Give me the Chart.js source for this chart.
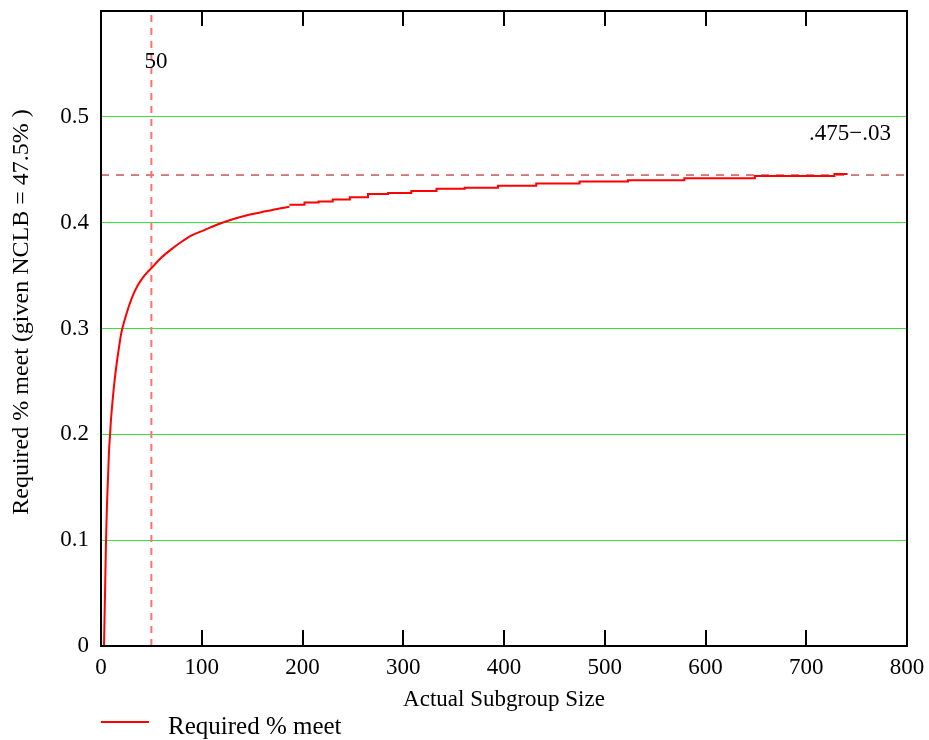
<!DOCTYPE html>
<html>
<head>
<meta charset="utf-8">
<script src="https://cdn.jsdelivr.net/npm/chart.js@4.4.1/dist/chart.umd.min.js"></script>
<style>
    html, body { margin: 0; padding: 0; background: #fff; }
    #wrap { width: 929px; height: 740px; }
</style>
</head>
<body>
<div id="wrap"><canvas id="chart"></canvas></div>
<script>
// Subgroup size (n) and required % meet
const smoothN = [3, 4, 5, 6, 7, 8, 9, 10, 12, 14, 16, 18, 20, 22, 25, 28, 32, 36, 40, 45, 50, 60, 70, 80, 90, 100, 115, 130, 145, 160, 175, 187];
const smoothVal = [0, 0.05, 0.10, 0.135, 0.16, 0.185, 0.20, 0.215, 0.237, 0.255, 0.27, 0.283, 0.295, 0.303, 0.313, 0.322, 0.332, 0.34, 0.346, 0.352, 0.357, 0.367, 0.375, 0.382, 0.388, 0.392, 0.398, 0.403, 0.407, 0.410, 0.413, 0.415];

// stepped part: n where each plateau starts, and its value
const stepN = [187, 202, 216, 230, 247, 265, 285, 308, 333, 361, 394, 432, 475, 523, 579, 649, 728, 741];
const stepVal = [0.417, 0.419, 0.420, 0.422, 0.424, 0.427, 0.428, 0.430, 0.432, 0.433, 0.435, 0.437, 0.439, 0.440, 0.442, 0.444, 0.446, 0.446];

const xTicks = [0, 100, 200, 300, 400, 500, 600, 700, 800];
const yTicks = [0, 0.1, 0.2, 0.3, 0.4, 0.5];

const markerN = 50;
const targetVal = 0.475 - 0.03;
const targetLabel = '.475\u2212.03';
const yTitle = 'Required % meet (given NCLB = 47.5% )';

const FONT = '"Liberation Serif", "DejaVu Serif", serif';

const toPoints = (xs, ys) => xs.map((x, i) => ({ x: x, y: ys[i] }));

// frame, inward ticks, text labels and legend
const decorations = {
    id: 'decorations',
    afterDraw(chart) {
        const ctx = chart.ctx;
        const a = chart.chartArea;
        const xs = chart.scales.x;
        const ys = chart.scales.y;
        ctx.save();

        ctx.strokeStyle = '#000';
        ctx.lineWidth = 2;
        ctx.strokeRect(a.left, a.top, a.right - a.left, a.bottom - a.top);

        ctx.beginPath();
        xTicks.forEach(v => {
            const px = Math.round(xs.getPixelForValue(v));
            ctx.moveTo(px, a.bottom);
            ctx.lineTo(px, a.bottom - 16);
            ctx.moveTo(px, a.top);
            ctx.lineTo(px, a.top + 15);
        });
        ctx.stroke();

        ctx.fillStyle = '#000';
        ctx.font = '23px ' + FONT;
        ctx.textBaseline = 'middle';
        ctx.textAlign = 'left';
        ctx.fillText(String(markerN), xs.getPixelForValue(markerN) - 7, ys.getPixelForValue(0.552));
        ctx.textAlign = 'right';
        ctx.fillText(targetLabel, xs.getPixelForValue(784), ys.getPixelForValue(0.484));

        // y axis title, slightly above the plot centre as in the original
        ctx.save();
        ctx.translate(22, 312);
        ctx.rotate(-Math.PI / 2);
        ctx.textAlign = 'center';
        ctx.font = '24px ' + FONT;
        ctx.fillText(yTitle, 0, 0);
        ctx.restore();

        // legend
        ctx.strokeStyle = '#ff0000';
        ctx.lineWidth = 2;
        ctx.beginPath();
        ctx.moveTo(a.left, 722);
        ctx.lineTo(a.left + 48, 722);
        ctx.stroke();
        ctx.textAlign = 'left';
        ctx.font = '25px ' + FONT;
        ctx.fillText('Required % meet', a.left + 67, 727);
        ctx.restore();
    }
};

new Chart(document.getElementById('chart'), {
    type: 'line',
    data: {
        datasets: [
            {
                label: 'Required % meet',
                data: toPoints(smoothN, smoothVal),
                borderColor: '#ff0000',
                borderWidth: 2,
                pointRadius: 0,
                tension: 0.3
            },
            {
                label: 'Required % meet (steps)',
                data: toPoints(stepN, stepVal),
                borderColor: '#ff0000',
                borderWidth: 2,
                pointRadius: 0,
                stepped: true
            },
            {
                label: 'n = 50',
                data: [{ x: markerN, y: 0 }, { x: markerN, y: 0.6 }],
                borderColor: '#ff7070',
                borderWidth: 2,
                borderDash: [7, 6],
                pointRadius: 0
            },
            {
                label: 'target',
                data: [{ x: 0, y: targetVal }, { x: 800, y: targetVal }],
                borderColor: '#b00000',
                borderWidth: 1,
                borderDash: [8, 7],
                pointRadius: 0
            }
        ]
    },
    options: {
        responsive: true,
        maintainAspectRatio: false,
        animation: false,
        layout: { padding: { top: 11, right: 22, left: 0, bottom: 0 } },
        plugins: {
            legend: { display: false },
            tooltip: { enabled: false }
        },
        scales: {
            x: {
                type: 'linear',
                min: 0,
                max: 800,
                afterFit: s => { s.height = 94; s.paddingLeft = 0; s.paddingRight = 0; },
                afterBuildTicks: s => { s.ticks = xTicks.map(v => ({ value: v })); },
                grid: { display: false },
                border: { display: false },
                ticks: {
                    color: '#000',
                    padding: 0,
                    maxRotation: 0,
                    font: { family: FONT, size: 23 }
                },
                title: {
                    display: true,
                    text: 'Actual Subgroup Size',
                    color: '#000',
                    padding: { top: 4, bottom: 26 },
                    font: { family: FONT, size: 23 }
                }
            },
            y: {
                type: 'linear',
                min: 0,
                max: 0.6,
                afterFit: s => { s.width = 101; s.paddingTop = 0; s.paddingBottom = 0; },
                afterBuildTicks: s => { s.ticks = yTicks.map(v => ({ value: v })); },
                grid: {
                    drawTicks: false,
                    color: ctx => ctx.tick && ctx.tick.value > 0 ? '#3ae03a' : 'rgba(0,0,0,0)',
                    lineWidth: 1
                },
                border: { display: false },
                ticks: {
                    color: '#000',
                    padding: 12,
                    font: { family: FONT, size: 23 },
                    callback: v => String(v)
                },
                title: { display: false }
            }
        }
    },
    plugins: [decorations]
});
</script>
</body>
</html>
